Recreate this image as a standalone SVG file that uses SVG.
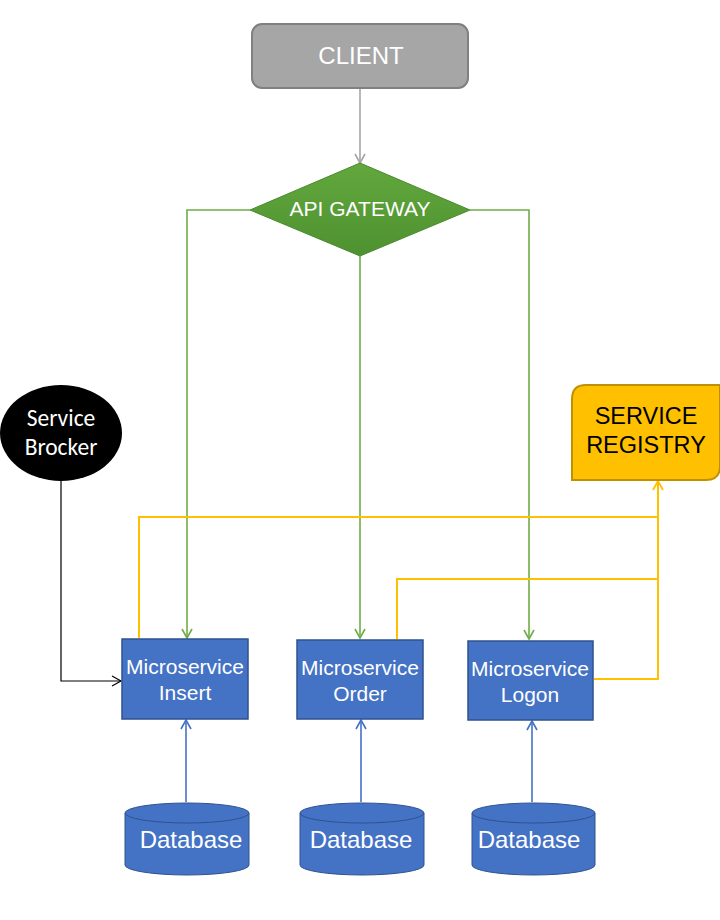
<svg xmlns="http://www.w3.org/2000/svg" width="720" height="920" viewBox="0 0 720 920">
<style>
.t{font-family:"Liberation Sans",Arial,sans-serif;text-anchor:middle}
.ms rect{fill:#4472c4;stroke:#2f528f;stroke-width:1.5}
.ms text{fill:#fff;font-size:21px}
.db text{fill:#fff;font-size:24px}
.db path,.db ellipse{fill:#4472c4;stroke:#2f528f;stroke-width:1}
.g{stroke:#70ad47;stroke-width:1.6;fill:none}
.y{stroke:#ffc000;stroke-width:2;fill:none}
.b{stroke:#4472c4;stroke-width:1.6;fill:none}
</style>
<defs>
<marker id="ag" markerWidth="12" markerHeight="12" refX="10" refY="6" orient="auto" markerUnits="userSpaceOnUse"><path d="M1,1 L10,6 L1,11" fill="none" stroke="#70ad47" stroke-width="1.6"/></marker>
<marker id="agr" markerWidth="12" markerHeight="12" refX="10" refY="6" orient="auto" markerUnits="userSpaceOnUse"><path d="M1,1 L10,6 L1,11" fill="none" stroke="#a6a6a6" stroke-width="1.6"/></marker>
<marker id="ab" markerWidth="12" markerHeight="12" refX="10" refY="6" orient="auto" markerUnits="userSpaceOnUse"><path d="M1,1 L10,6 L1,11" fill="none" stroke="#4472c4" stroke-width="1.6"/></marker>
<marker id="ay" markerWidth="12" markerHeight="12" refX="10" refY="6" orient="auto" markerUnits="userSpaceOnUse"><path d="M1,1 L10,6 L1,11" fill="none" stroke="#ffc000" stroke-width="1.8"/></marker>
<marker id="ak" markerWidth="12" markerHeight="12" refX="10" refY="6" orient="auto" markerUnits="userSpaceOnUse"><path d="M1,1 L10,6 L1,11" fill="none" stroke="#000" stroke-width="1.2"/></marker>
<linearGradient id="gg" x1="0" y1="0" x2="0" y2="1"><stop offset="0" stop-color="#62a83d"/><stop offset="1" stop-color="#4e9130"/></linearGradient>
</defs>
<rect width="720" height="920" fill="#fff"/>
<g id="connectors">
<line x1="360" y1="88" x2="360" y2="163" stroke="#a6a6a6" stroke-width="1.6" marker-end="url(#agr)"/>
<polyline class="g" points="250,210 187,210 187,638" marker-end="url(#ag)"/>
<line class="g" x1="360" y1="256" x2="360" y2="638" marker-end="url(#ag)"/>
<polyline class="g" points="470,210 529,210 529,639" marker-end="url(#ag)"/>
<polyline points="61,481 61,681 121,681" fill="none" stroke="#000" stroke-width="1.2" marker-end="url(#ak)"/>
<polyline class="y" points="139,638 139,517 658,517"/>
<polyline class="y" points="397,639 397,579 658,579"/>
<polyline class="y" points="594,679 658,679 658,481" marker-end="url(#ay)"/>
<line class="b" x1="186" y1="802" x2="186" y2="720" marker-end="url(#ab)"/>
<line class="b" x1="361" y1="802" x2="361" y2="720" marker-end="url(#ab)"/>
<line class="b" x1="532" y1="802" x2="532" y2="721" marker-end="url(#ab)"/>
</g>
<g id="client">
<rect x="252" y="24" width="216" height="64" rx="10" fill="#a6a6a6" stroke="#808080" stroke-width="2"/>
<text class="t" x="361" y="64" font-size="24" fill="#fff">CLIENT</text>
</g>
<g id="api-gateway">
<polygon points="360,163 470,210 360,256 250,210" fill="url(#gg)" stroke="#4a8a2c" stroke-width="1"/>
<text class="t" x="360" y="216" font-size="21" fill="#fff">API GATEWAY</text>
</g>
<g id="service-brocker">
<ellipse cx="61" cy="433" rx="61" ry="48" fill="#000"/>
<text x="61" y="426" font-family="Carlito,Calibri,'Open Sans',sans-serif" font-size="23.5" fill="#fff" text-anchor="middle">Service</text>
<text x="61" y="455" font-family="Carlito,Calibri,'Open Sans',sans-serif" font-size="23.5" fill="#fff" text-anchor="middle">Brocker</text>
</g>
<g id="service-registry">
<path d="M586,385 H720 V466 Q720,480 706,480 H572 V399 Q572,385 586,385 Z" fill="#ffc000" stroke="#bf9000" stroke-width="2"/>
<text class="t" x="646" y="424" font-size="23.5" fill="#000">SERVICE</text>
<text class="t" x="646" y="453" font-size="23.5" fill="#000">REGISTRY</text>
</g>
<g id="ms-insert" class="ms">
<rect x="122" y="639" width="126" height="80"/>
<text class="t" x="185" y="674">Microservice</text>
<text class="t" x="185" y="700">Insert</text>
</g>
<g id="ms-order" class="ms">
<rect x="297" y="640" width="126" height="79"/>
<text class="t" x="360" y="675">Microservice</text>
<text class="t" x="360" y="701">Order</text>
</g>
<g id="ms-logon" class="ms">
<rect x="468" y="641" width="125" height="79"/>
<text class="t" x="530" y="676">Microservice</text>
<text class="t" x="530" y="702">Logon</text>
</g>
<g id="db-insert" class="db">
<path d="M125,813 V865 A62,10 0 0 0 249,865 V813 Z"/>
<ellipse cx="187" cy="813" rx="62" ry="10"/>
<text class="t" x="191" y="848">Database</text>
</g>
<g id="db-order" class="db">
<path d="M300,813 V865 A62,10 0 0 0 424,865 V813 Z"/>
<ellipse cx="362" cy="813" rx="62" ry="10"/>
<text class="t" x="361" y="848">Database</text>
</g>
<g id="db-logon" class="db">
<path d="M472,813 V865 A61.5,10 0 0 0 595,865 V813 Z"/>
<ellipse cx="533.5" cy="813" rx="61.5" ry="10"/>
<text class="t" x="529" y="848">Database</text>
</g>
</svg>
